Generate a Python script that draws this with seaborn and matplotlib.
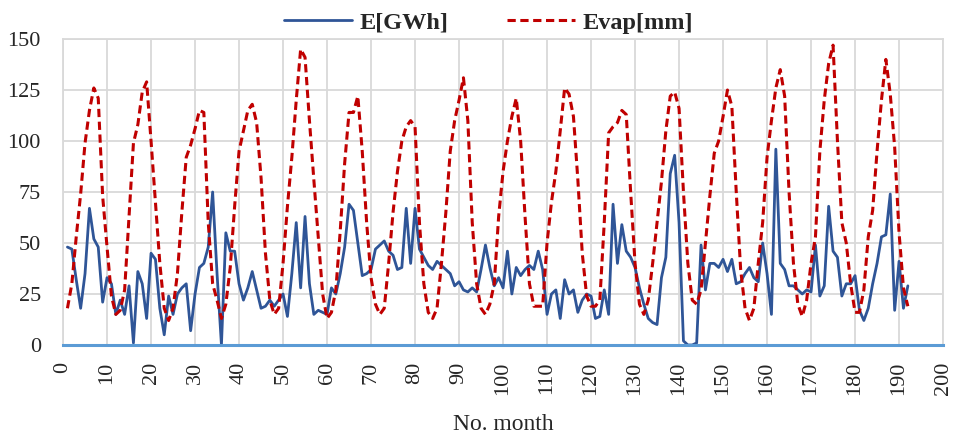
import numpy as np
import pandas as pd
import seaborn as sns
import matplotlib
matplotlib.use('Agg')
import matplotlib.pyplot as plt

# ------------------------------------------------------------------
# Datos
# ------------------------------------------------------------------
meses = list(range(1, 193))

e_gwh = [48, 47, 32, 18, 35, 67, 52, 48, 21, 33, 30, 15, 22, 15, 29, 1,
         36, 30, 13, 45, 42, 18, 5, 24, 15, 25, 28, 30, 7, 25, 38, 40,
         48, 75, 35, 0, 55, 46, 46, 30, 22, 28, 36, 27, 18, 19, 22, 19,
         22, 25, 14, 35, 60, 28, 63, 30, 15, 17, 16, 15, 28, 25, 35, 48,
         69, 66, 50, 34, 35, 37, 47, 49, 51, 46, 44, 37, 38, 67, 40, 67,
         47, 43, 39, 37, 41, 39, 37, 35, 29, 31, 27, 26, 28, 26, 37, 49,
         38, 29, 33, 28, 46, 25, 38, 34, 37, 39, 37, 46, 37, 15, 25, 27,
         13, 32, 25, 27, 16, 22, 25, 24, 13, 14, 27, 15, 69, 40, 59, 46,
         43, 38, 28, 20, 13, 11, 10, 33, 43, 84, 93, 60, 2, 0, 0, 1,
         49, 27, 40, 40, 38, 42, 36, 42, 30, 31, 35, 38, 33, 31, 50, 35,
         15, 96, 40, 37, 29, 29, 27, 25, 27, 26, 49, 24, 29, 68, 46, 43,
         24, 30, 30, 34, 17, 12, 18, 30, 40, 53, 54, 74, 17, 41, 18, 29]

evap_mm = [18, 30, 53, 74, 99, 115, 126, 121, 73, 48, 24, 15, 17, 27, 63, 99,
           108, 124, 129, 100, 70, 40, 18, 12, 18, 35, 65, 92, 98, 106, 115, 114,
           60, 30, 22, 13, 20, 38, 68, 95, 105, 115, 118, 109, 82, 45, 22, 15,
           18, 40, 68, 92, 120, 145, 141, 110, 81, 53, 25, 13, 16, 27, 56, 89,
           114, 114, 122, 95, 60, 33, 20, 15, 18, 40, 65, 85, 100, 107, 110, 107,
           60, 30, 16, 13, 18, 40, 65, 95, 110, 120, 131, 110, 60, 30, 18, 15,
           20, 30, 63, 85, 100, 112, 121, 100, 63, 30, 19, 19, 19, 50, 70, 85,
           105, 126, 123, 112, 81, 45, 24, 19, 19, 22, 60, 104, 107, 109, 115, 113,
           75, 40, 20, 15, 22, 40, 60, 80, 105, 122, 124, 116, 75, 40, 22, 20,
           27, 50, 73, 94, 100, 112, 125, 117, 75, 37, 18, 12, 18, 40, 60, 92,
           110, 126, 135, 122, 75, 40, 20, 14, 22, 40, 53, 95, 120, 138, 147, 100,
           60, 50, 30, 16, 16, 27, 53, 66, 95, 120, 140, 123, 97, 55, 28, 19]

ticks_x = list(range(0, 201, 10))
ticks_y = list(range(0, 151, 25))

df = pd.DataFrame({"mes": meses, "E": e_gwh, "Evap": evap_mm})

# ------------------------------------------------------------------
# Estilo
# ------------------------------------------------------------------
sns.set_theme(style="white")
plt.rcParams['font.family'] = ['Liberation Serif', 'DejaVu Serif']

fig = plt.figure(figsize=(9.58, 4.34), dpi=100)
ax = fig.add_axes([0.0658, 0.2051, 0.9186, 0.705])

sns.lineplot(data=df, x="mes", y="E", color="#2F5597", linewidth=2.0,
             label="E[GWh]", ax=ax, zorder=3)
sns.lineplot(data=df, x="mes", y="Evap", color="#C00000", linewidth=2.2,
             label="Evap[mm]", ax=ax, zorder=4)
ax.lines[-1].set_dashes([2.7, 1.5])

ax.set_xlim(0, 200)
ax.set_ylim(0, 150)
ax.set_xticks(ticks_x)
ax.set_yticks(ticks_y)
ax.grid(True, color="#D9D9D9", linewidth=1.3)
ax.set_axisbelow(True)

for lado in ["left", "top", "right"]:
    ax.spines[lado].set_color("#D9D9D9")
    ax.spines[lado].set_linewidth(1.3)
ax.spines["bottom"].set_color("#5B9BD5")
ax.spines["bottom"].set_linewidth(2.2)
ax.spines["bottom"].set_zorder(5)

ax.tick_params(axis="x", labelsize=16, rotation=90, length=0, pad=12)
ax.tick_params(axis="y", labelsize=16, length=0, pad=16)
ax.set_xlabel("No. month", fontsize=17, labelpad=14)
ax.set_ylabel("")

# Leyenda centrada arriba, como en Excel
leg = ax.legend(loc="center", bbox_to_anchor=(0.51, 0.948),
                bbox_transform=fig.transFigure, ncol=2, frameon=False,
                prop={"size": 17.5, "weight": "bold"}, handlelength=2.8,
                columnspacing=2.4, handletextpad=0.3)
leg.get_lines()[1].set_dashes([2.7, 1.5])

fig.savefig("out.png", dpi=100)
plt.close()
